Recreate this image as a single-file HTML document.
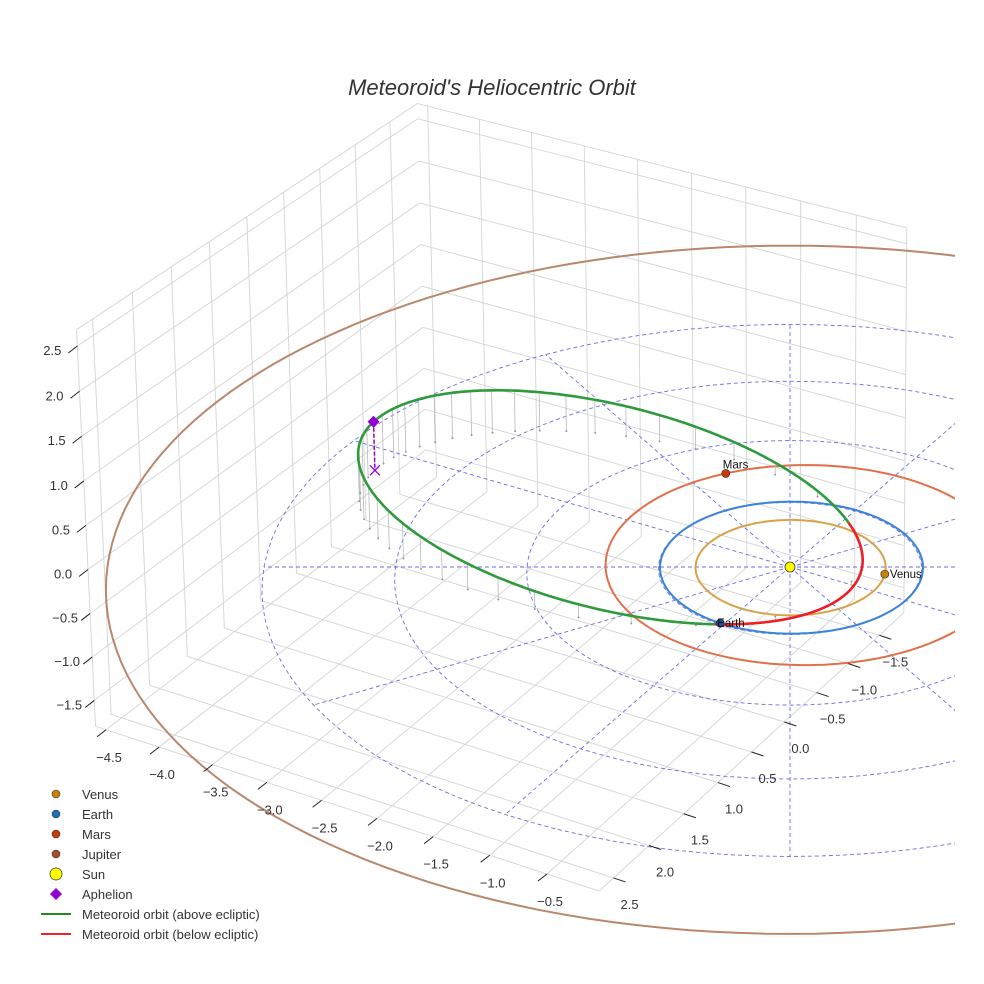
<!DOCTYPE html>
<html><head><meta charset="utf-8"><title>Meteoroid's Heliocentric Orbit</title>
<style>
html,body{margin:0;padding:0;background:#fff;}
svg{display:block;font-family:"Liberation Sans",sans-serif;}
</style></head>
<body>
<svg id="chart" width="984" height="984" viewBox="0 0 984 984">
  <defs><clipPath id="plotclip"><rect x="0" y="0" width="955" height="984"/></clipPath></defs>
  <rect x="0" y="0" width="984" height="984" fill="#ffffff"/>
  <text x="492" y="95" text-anchor="middle" font-size="22" font-style="italic" fill="#333">Meteoroid's Heliocentric Orbit</text>
  <g id="gBox"></g>
  <g id="gPlot" clip-path="url(#plotclip)"></g>
  <g id="gTicks"></g>
  <g id="gLegend">
    <circle cx="56" cy="794" r="4" fill="#c8820e" stroke="#333" stroke-width="0.6"/>
    <text x="82" y="799" font-size="13" fill="#333">Venus</text>
    <circle cx="56" cy="814" r="4" fill="#1f6fb4" stroke="#333" stroke-width="0.6"/>
    <text x="82" y="819" font-size="13" fill="#333">Earth</text>
    <circle cx="56" cy="834" r="4" fill="#cc3a0a" stroke="#333" stroke-width="0.6"/>
    <text x="82" y="839" font-size="13" fill="#333">Mars</text>
    <circle cx="56" cy="854" r="4" fill="#a0522d" stroke="#333" stroke-width="0.6"/>
    <text x="82" y="859" font-size="13" fill="#333">Jupiter</text>
    <circle cx="56" cy="874" r="6" fill="#ffff00" stroke="#333" stroke-width="0.7"/>
    <text x="82" y="879" font-size="13" fill="#333">Sun</text>
    <polygon points="56,888 62,894 56,900 50,894" fill="#9400d3"/>
    <text x="82" y="899" font-size="13" fill="#333">Aphelion</text>
    <line x1="41" y1="914" x2="71" y2="914" stroke="#228b22" stroke-width="2"/>
    <text x="82" y="919" font-size="13" fill="#333">Meteoroid orbit (above ecliptic)</text>
    <line x1="41" y1="934" x2="71" y2="934" stroke="#e8262b" stroke-width="2"/>
    <text x="82" y="939" font-size="13" fill="#333">Meteoroid orbit (below ecliptic)</text>
  </g>
</svg>
<script>
// ---- data ----
const xTicks = [-4.5, -4.0, -3.5, -3.0, -2.5, -2.0, -1.5, -1.0, -0.5];
const yTicks = [-1.5, -1.0, -0.5, 0.0, 0.5, 1.0, 1.5, 2.0, 2.5];
const zTicks = [-1.5, -1.0, -0.5, 0.0, 0.5, 1.0, 1.5, 2.0, 2.5];
const xLim = [-4.6, -0.05];
const yLim = [-1.9, 2.7];
const zLim = [-1.8, 2.68];
const planetNames = ['Venus', 'Earth', 'Mars', 'Jupiter'];
const planetA = [0.723, 1.0, 1.524, 5.203];
const planetE = [0.0068, 0.0167, 0.0934, 0.048];
const planetPeri = [131, 103, 116, 60];
const planetLon = [-21.5, 92, 221, 0];
const planetOrbitColors = ['#d9a24a', '#3a84d6', '#e0704c', '#b8876c'];
const planetMarkerColors = ['#c8820e', '#1f4f9a', '#cc3a0a', '#a0522d'];
const meteorA = [2.08];
const meteorE = [0.75];
const meteorI = [9.0];
const meteorNode = [93.0];
const meteorPeri = [262.0];
const gridRadii = [1, 2, 3, 4];
const gridAngles = [0, 30, 60, 90, 120, 150, 180, 210, 240, 270, 300, 330];

// ---- projection ----
const NS = document.getElementById('chart').namespaceURI;
const D2R = Math.PI / 180;
const AZ = 30 * D2R;
function P(x, y, z) {
  const h = Math.cos(AZ) * x - Math.sin(AZ) * y;
  const v = Math.sin(AZ) * x + Math.cos(AZ) * y;
  const s = 1 / (1 - 0.022 * v - 0.006 * z);
  return [790 + 131.5 * h * s, 567 + (66 * v - 88 * z) * s];
}
function el(tag, parent) { const e = document.createElementNS(NS, tag); parent.appendChild(e); return e; }
function at(e, o) { for (const k in o) e.setAttribute(k, o[k]); }
function pts(arr) { return arr.map(p => p[0].toFixed(1) + ',' + p[1].toFixed(1)).join(' '); }
function fmt(v) { return (v < 0 ? '\u2212' : '') + Math.abs(v).toFixed(1); }

const gBox = document.getElementById('gBox');
const gPlot = document.getElementById('gPlot');
const gTicks = document.getElementById('gTicks');

function gridLine(a, b, name) {
  const l = el('line', gBox);
  const p = P(a[0], a[1], a[2]), q = P(b[0], b[1], b[2]);
  at(l, {x1: p[0], y1: p[1], x2: q[0], y2: q[1], stroke: '#d4d4d4', 'stroke-width': 0.9});
  
  
}
const [x0, x1] = xLim, [y0, y1] = yLim, [z0, z1] = zLim;
gridLine([x0, y1, z0], [x0, y1, z1], 'pane-edge');
gridLine([x0, y0, z1], [x0, y1, z1], 'pane-edge');
gridLine([x0, y0, z1], [x1, y0, z1], 'pane-edge');
gridLine([x1, y0, z0], [x1, y0, z1], 'pane-edge');
gridLine([x0, y1, z0], [x1, y1, z0], 'pane-edge');
gridLine([x1, y0, z0], [x1, y1, z0], 'pane-edge');
xTicks.forEach(t => gridLine([t, y0, z0], [t, y1, z0], 'floor-grid-x'));
yTicks.forEach(t => gridLine([x0, t, z0], [x1, t, z0], 'floor-grid-y'));
yTicks.forEach(t => gridLine([x0, t, z0], [x0, t, z1], 'left-wall-grid-y'));
zTicks.forEach(t => gridLine([x0, y0, t], [x0, y1, t], 'left-wall-grid-z'));
xTicks.forEach(t => gridLine([t, y0, z0], [t, y0, z1], 'back-wall-grid-x'));
zTicks.forEach(t => gridLine([x0, y0, t], [x1, y0, t], 'back-wall-grid-z'));

// ---- ticks ----
function tick(p, dx, dy, lx, ly, label, name) {
  const l = el('line', gTicks);
  at(l, {x1: p[0], y1: p[1], x2: p[0] + dx, y2: p[1] + dy, stroke: '#222', 'stroke-width': 1});
  
  
  const t = el('text', gTicks);
  at(t, {x: p[0] + lx, y: p[1] + ly, 'text-anchor': 'middle', 'font-size': 13, fill: '#333'});
  t.textContent = label;
  
  
}
xTicks.forEach(t => tick(P(t, y1, z0), -9, 7, 3, 32, fmt(t), 'x-tick'));
yTicks.forEach(t => tick(P(x1, t, z0), 12, 4, 16, 31, fmt(t), 'y-tick'));
zTicks.forEach(t => tick(P(x0, y1, t), -9, 7, -25, 9, fmt(t), 'z-tick'));

// ---- polar grid on ecliptic ----
gridRadii.forEach(r => {
  const a = [];
  for (let d = 0; d <= 360; d += 3) a.push(P(r * Math.cos(d * D2R), r * Math.sin(d * D2R), 0));
  const c = el('polyline', gPlot);
  at(c, {points: pts(a), fill: 'none', stroke: '#6b6bea', 'stroke-width': 0.9, 'stroke-dasharray': '4,3'});
  
  
});
const rMax = gridRadii[gridRadii.length - 1];
gridAngles.forEach(d => {
  const p = P(0, 0, 0), q = P(rMax * Math.cos((d - 30) * D2R), rMax * Math.sin((d - 30) * D2R), 0);
  const l = el('line', gPlot);
  at(l, {x1: p[0], y1: p[1], x2: q[0], y2: q[1], stroke: '#6b6bea', 'stroke-width': 0.9, 'stroke-dasharray': '4,3'});
  
  
});

// ---- planet orbits ----
function planetR(i, lon) { const a = planetA[i], e = planetE[i]; return a * (1 - e * e) / (1 + e * Math.cos((lon - planetPeri[i]) * D2R)); }
planetNames.forEach((n, i) => {
  const a = [];
  for (let d = 0; d <= 360; d += 2) { const r = planetR(i, d); a.push(P(r * Math.cos(d * D2R), r * Math.sin(d * D2R), 0)); }
  const o = el('polyline', gPlot);
  at(o, {points: pts(a), fill: 'none', stroke: planetOrbitColors[i], 'stroke-width': 2});
  
  
});

// ---- meteoroid ----
function meteorPos(nu) {
  const a = meteorA[0], e = meteorE[0], inc = meteorI[0] * D2R, Om = meteorNode[0] * D2R, w = meteorPeri[0] * D2R;
  const r = a * (1 - e * e) / (1 + e * Math.cos(nu));
  const u = w + nu;
  return [r * (Math.cos(Om) * Math.cos(u) - Math.sin(Om) * Math.sin(u) * Math.cos(inc)),
          r * (Math.sin(Om) * Math.cos(u) + Math.cos(Om) * Math.sin(u) * Math.cos(inc)),
          r * Math.sin(u) * Math.sin(inc)];
}
for (let k = 0; k < 40; k++) {
  const M = k / 40 * 2 * Math.PI, e = meteorE[0];
  let E = M + e * Math.sin(M);
  for (let j = 0; j < 30; j++) E = E - (E - e * Math.sin(E) - M) / (1 - e * Math.cos(E));
  const nu = 2 * Math.atan2(Math.sqrt(1 + e) * Math.sin(E / 2), Math.sqrt(1 - e) * Math.cos(E / 2));
  const p3 = meteorPos(nu);
  const p = P(p3[0], p3[1], p3[2]), q = P(p3[0], p3[1], 0);
  const s = el('line', gPlot);
  at(s, {x1: p[0], y1: p[1], x2: q[0], y2: q[1], stroke: '#b8b8b8', 'stroke-width': 0.8});
  
  
  const f = el('circle', gPlot);
  at(f, {cx: q[0], cy: q[1], r: 1, fill: '#999'});
  
  
}
let seg = [], above = null;
function flush() {
  if (seg.length > 1) {
    const pl = el('polyline', gPlot);
    at(pl, {points: pts(seg), fill: 'none', stroke: above ? '#2e9a3c' : '#ee1c25', 'stroke-width': 2.6, 'stroke-linejoin': 'round'});
    
    
  }
}
for (let d = -180; d <= 180; d += 0.5) {
  const p3 = meteorPos(d * D2R);
  const ab = p3[2] >= 0;
  const p = P(p3[0], p3[1], p3[2]);
  if (above === null) above = ab;
  if (ab !== above) { seg.push(p); flush(); seg = [p]; above = ab; } else seg.push(p);
}
flush();
const aph = meteorPos(Math.PI);
const ap = P(aph[0], aph[1], aph[2]), af = P(aph[0], aph[1], 0);
const aphLine = el('line', gPlot);
at(aphLine, {x1: ap[0], y1: ap[1], x2: af[0], y2: af[1], stroke: '#9400d3', 'stroke-width': 1.5, 'stroke-dasharray': '4,2'});


const aphX = el('path', gPlot);
at(aphX, {d: `M${af[0]-5},${af[1]-5}L${af[0]+5},${af[1]+5}M${af[0]-5},${af[1]+5}L${af[0]+5},${af[1]-5}`, stroke: '#9400d3', 'stroke-width': 1.3});


const aphM = el('polygon', gPlot);
at(aphM, {points: `${ap[0]},${ap[1]-6} ${ap[0]+6},${ap[1]} ${ap[0]},${ap[1]+6} ${ap[0]-6},${ap[1]}`, fill: '#9400d3'});



// ---- planets ----
const labelOff = [[5, 4], [-3, 4], [-3, -5], [5, 4]];
planetNames.forEach((n, i) => {
  const r = planetR(i, planetLon[i]);
  const p = P(r * Math.cos(planetLon[i] * D2R), r * Math.sin(planetLon[i] * D2R), 0);
  const m = el('circle', gPlot);
  at(m, {cx: p[0], cy: p[1], r: 4, fill: planetMarkerColors[i], stroke: '#222', 'stroke-width': 0.6});
  
  
  const t = el('text', gPlot);
  at(t, {x: p[0] + labelOff[i][0], y: p[1] + labelOff[i][1], 'font-size': 11.5, fill: '#111'});
  t.textContent = n;
  
  
});
const sp = P(0, 0, 0);
const sun = el('circle', gPlot);
at(sun, {cx: sp[0], cy: sp[1], r: 5, fill: '#ffff00', stroke: '#333', 'stroke-width': 0.8});


</script>
</body></html>
